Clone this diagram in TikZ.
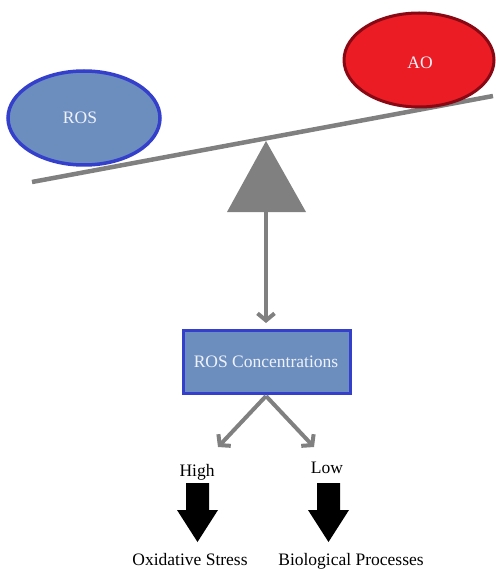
\documentclass[tikz,border=0pt]{standalone}
\usepackage{fontspec}
\setmainfont{Liberation Serif}
\usetikzlibrary{shapes.geometric,arrows.meta}
\definecolor{rosfill}{RGB}{108,142,191}
\definecolor{rosedge}{RGB}{52,64,204}
\definecolor{aofill}{RGB}{236,28,36}
\definecolor{aoedge}{RGB}{136,8,20}
\definecolor{beamgrey}{RGB}{128,128,128}
\definecolor{lighttxt}{RGB}{240,242,250}
\tikzset{
  txt/.style={font=\fontsize{17.5}{20}\selectfont, inner sep=0pt},
  rosell/.style={ellipse, draw=rosedge, fill=rosfill, line width=3.5pt, minimum width=152pt, minimum height=94pt, inner sep=0pt},
  aoell/.style={ellipse, draw=aoedge, fill=aofill, line width=3pt, minimum width=150pt, minimum height=94pt, inner sep=0pt},
  concbox/.style={rectangle, draw=rosedge, fill=rosfill, line width=3.5pt, minimum width=167pt, minimum height=63pt, inner sep=0pt},
  garrow/.style={draw=beamgrey, line width=4pt, -{Straight Barb[length=7pt,width=17pt,line width=4pt]}},
  blockarrow/.style={fill=black}
}
\begin{document}
\begin{tikzpicture}[x=1pt,y=-1pt]
\useasboundingbox (0,0) rectangle (495,569);
% beam
\coordinate (beamL) at (32,182);
\coordinate (beamR) at (493,96);
\draw[beamgrey, line width=4.5pt] (beamL) -- (beamR);
% pans
\node[rosell] (ros) at (84,118) {};
\node[txt, text=lighttxt, anchor=base] (roslbl) at (80,124) {ROS};
\node[aoell] (ao) at (419,60) {};
\node[txt, text=lighttxt, anchor=base] (aolbl) at (420,69) {AO};
% fulcrum
\coordinate (apex) at (266,141);
\coordinate (triL) at (227,212);
\coordinate (triR) at (306,212);
\coordinate (triBase) at (266,212);
\fill[beamgrey] (apex) -- (triR) -- (triL) -- cycle;
% concentration box
\node[concbox] (box) at (267,362) {};
\node[txt, text=lighttxt, anchor=base] (boxlbl) at (266,367) {ROS Concentrations};
\draw[garrow, shorten >=-1pt] (triBase) -- (266,322);
% branches
\coordinate (split) at (266,396);
\coordinate (hiTip) at (218,447);
\coordinate (loTip) at (314,447);
\draw[garrow] (split) -- (hiTip);
\draw[garrow] (split) -- (loTip);
\node[txt, anchor=base] (high) at (197,476) {High};
\node[txt, anchor=base] (low) at (327,473) {Low};
% block arrows
\fill[blockarrow] (186,483) -- (209,483) -- (209,510) -- (218,510) -- (197.5,542) -- (177,510) -- (186,510) -- cycle;
\fill[blockarrow] (317,483) -- (340,483) -- (340,510) -- (349,510) -- (328.5,542) -- (308,510) -- (317,510) -- cycle;
\node[txt, anchor=base] (ox) at (190,565) {Oxidative Stress};
\node[txt, anchor=base] (bio) at (351,565) {Biological Processes};
\end{tikzpicture}
\end{document}
